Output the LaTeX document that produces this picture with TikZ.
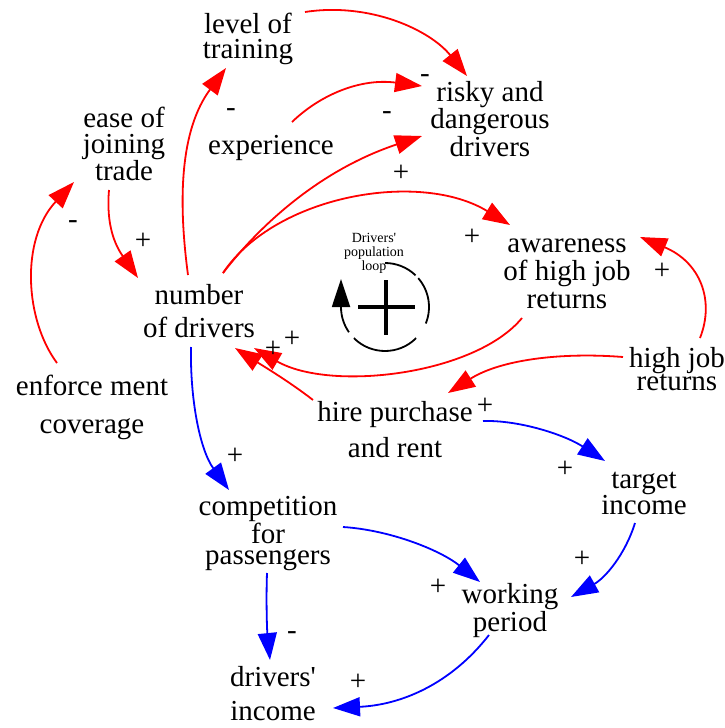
\documentclass[tikz,border=0pt]{standalone}
\usepackage{fontspec}
\setmainfont{Liberation Serif}
\usetikzlibrary{arrows.meta,calc}
\begin{document}
\begin{tikzpicture}[x=1pt,y=-1pt,
  cvar/.style={align=center, inner sep=0pt, font=\fontsize{29}{#1}\selectfont},
  sgn/.style={inner sep=0pt, anchor=base, font=\fontsize{29}{29}\selectfont},
  redlink/.style={draw=red, line width=1.8pt, -{Triangle[length=27pt,width=19pt,fill=red]}},
  bluelink/.style={draw=blue, line width=1.8pt, -{Triangle[length=27pt,width=19pt,fill=blue]}}
]
\useasboundingbox (0,0) rectangle (725,728);

% variables
\node[cvar=25]   (ntrain)  at (248,38.7)  {level of\\training};
\node[cvar=23.5] (nrisky)  at (490,118.7) {risky and\\dangerous\\drivers};
\node[cvar=26]   (nease)   at (124,144)   {ease of\\joining\\trade};
\node[cvar=29]   (nexp)    at (271,148)   {experience};
\node[cvar=28]   (naware)  at (567,273.7) {awareness\\of high job\\returns};
\node[cvar=33]   (ndriv)   at (199,311.5) {number\\of drivers};
\node[cvar=22]   (nhigh)   at (677,369)   {high job\\returns};
\node[cvar=38]   (nenf)    at (92,407.5)  {enforce ment\\coverage};
\node[cvar=36]   (nhire)   at (395,430)   {hire purchase\\and rent};
\node[cvar=24]   (ntarget) at (644,493.5) {target\\income};
\node[cvar=21.5] (ncomp)   at (268,533.6) {competition\\for\\passengers};
\node[cvar=19]   (nwork)   at (510,610.5) {working\\period};
\node[cvar=34]   (nincome) at (273,694)   {drivers\textquotesingle\\income};

% loop marker
\node[align=center, inner sep=0pt, font=\fontsize{14}{14}\selectfont] (nloop) at (374,253) {Drivers\textquotesingle\\population\\loop};
\coordinate (loopc) at (385,307);
\begin{scope}[line width=1.8pt]
  \draw ($(loopc)+(-90:44)$) arc[start angle=-90, end angle=-46, radius=44];
  \draw ($(loopc)+(-41:44)$) arc[start angle=-41, end angle=22, radius=44];
  \draw ($(loopc)+(45:44)$) arc[start angle=45, end angle=135, radius=44];
  \draw[-{Triangle[length=28pt,width=18pt]}] ($(loopc)+(145:44)$) arc[start angle=145, end angle=180, radius=44] -- ++(0,-28);
\end{scope}
\draw[line width=4pt] ($(loopc)+(-27,0)$) -- ($(loopc)+(30,0)$);
\draw[line width=4pt] ($(loopc)+(1,-27)$) -- ($(loopc)+(1,28)$);

% red links
\draw[redlink] ($(ndriv)+(-11,-36.5)$) .. controls +(-10,-75) and +(-46,62) .. ($(ntrain)+(-22,29.3)$);
\draw[redlink] ($(ntrain)+(57,-26.7)$) .. controls +(65,-10) and +(-37,-46) .. ($(nrisky)+(-23,-42.7)$);
\draw[redlink] ($(nexp)+(21,-26)$) .. controls +(28,-27) and +(-62,-8) .. ($(nrisky)+(-68,-32.7)$);
\draw[redlink] ($(ndriv)+(24,-38.5)$) .. controls +(37,-48) and +(-102,34) .. ($(nrisky)+(-68,17.3)$);
\draw[redlink] ($(ndriv)+(24,-38.5)$) .. controls +(52,-78) and +(-90,-55) .. ($(naware)+(-57,-48.7)$);
\draw[redlink] ($(nease)+(-15,46)$) .. controls +(-3,35) and +(-23,-33) .. ($(ndriv)+(-61,-33.5)$);
\draw[redlink] ($(nenf)+(-35,-44.5)$) .. controls +(-32,-43) and +(-54,58) .. ($(nease)+(-50,38)$);
\draw[redlink] ($(naware)+(-45,44.3)$) .. controls +(-47,57) and +(76,44) .. ($(ndriv)+(55,36.5)$);
\draw[redlink] ($(nhire)+(-82,-30)$) .. controls +(-23,-18) and +(25,16) .. ($(ndriv)+(36,36.5)$);
\draw[redlink] ($(nhigh)+(-54,-12)$) .. controls +(-63,-5) and +(52,-33) .. ($(nhire)+(53,-37)$);
\draw[redlink] ($(nhigh)+(23,-31)$) .. controls +(15,-38) and +(60,25) .. ($(naware)+(73,-36.7)$);

% blue links
\draw[bluelink] ($(nhire)+(88,-9)$) .. controls +(37,-1) and +(-40,-26) .. ($(ntarget)+(-39,-32.5)$);
\draw[bluelink] ($(ndriv)+(-8,35.5)$) .. controls +(-1,53) and +(-29,-40) .. ($(ncomp)+(-39,-43.6)$);
\draw[bluelink] ($(ncomp)+(75,-6.6)$) .. controls +(47,3) and +(-40,-32) .. ($(nwork)+(-30,-28.5)$);
\draw[bluelink] ($(ncomp)+(-1,39.4)$) .. controls +(-1,27) and +(-3,-30) .. ($(nincome)+(-3,-34)$);
\draw[bluelink] ($(nwork)+(-21,24.5)$) .. controls +(-39,50) and +(67,-3) .. ($(nincome)+(60,14)$);
\draw[bluelink] ($(ntarget)+(-9,29.5)$) .. controls +(-10,32) and +(34,-19) .. ($(nwork)+(61,-13.5)$);

% polarity signs
\node[sgn] (s1)  at (231,116.5) {-};
\node[sgn] (s2)  at (425,82.5)  {-};
\node[sgn] (s3)  at (387,119)   {-};
\node[sgn] (s4)  at (401,181)   {+};
\node[sgn] (s5)  at (472,245)   {+};
\node[sgn] (s6)  at (73,228.5)  {-};
\node[sgn] (s7)  at (143,249)   {+};
\node[sgn] (s8)  at (662,279)   {+};
\node[sgn] (s9)  at (292,347)   {+};
\node[sgn] (s10) at (273,357)   {+};
\node[sgn] (s11) at (485,414)   {+};
\node[sgn] (s12) at (565,477)   {+};
\node[sgn] (s13) at (235,464)   {+};
\node[sgn] (s14) at (438,595)   {+};
\node[sgn] (s15) at (292,639)   {-};
\node[sgn] (s16) at (358,690)   {+};
\node[sgn] (s17) at (582,567)   {+};
\end{tikzpicture}
\end{document}
